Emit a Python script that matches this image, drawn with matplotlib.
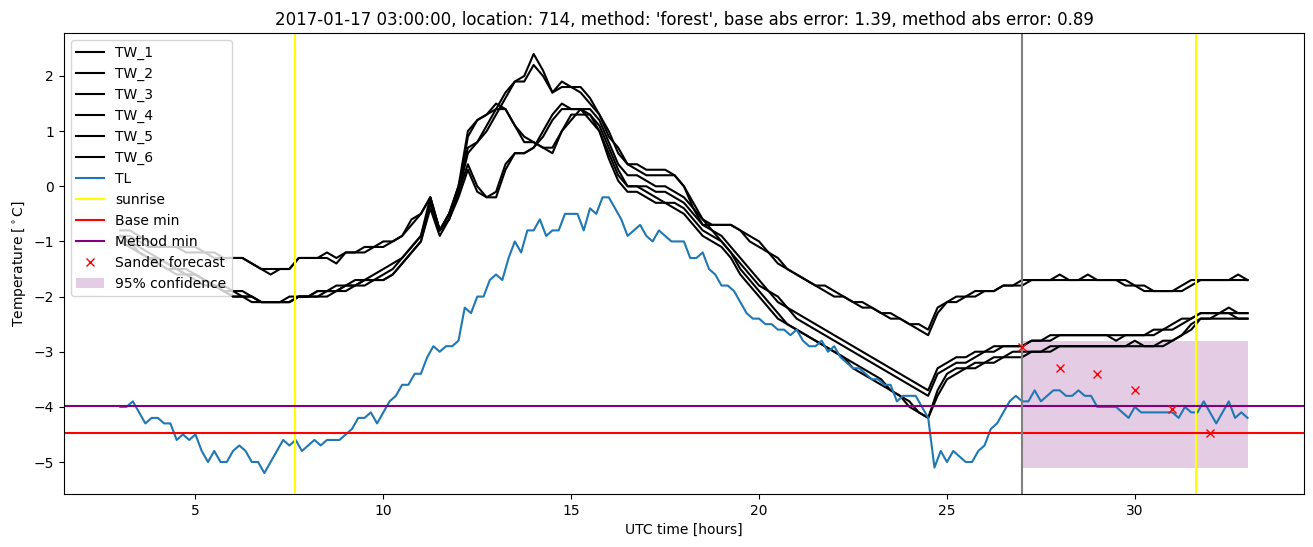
import numpy as np
import matplotlib
matplotlib.use("Agg")
import matplotlib.pyplot as plt

# ---------------- data ----------------
# TL: 10-minute values, one row per hour (h:00 ... h:50), final value at 33:00
tl_values = [
    -4.0, -4.0, -3.9, -4.1, -4.3, -4.2,   # 3
    -4.2, -4.3, -4.3, -4.6, -4.5, -4.6,   # 4
    -4.5, -4.8, -5.0, -4.8, -5.0, -5.0,   # 5
    -4.8, -4.7, -4.8, -5.0, -5.0, -5.2,   # 6
    -5.0, -4.8, -4.6, -4.7, -4.6, -4.8,   # 7
    -4.7, -4.6, -4.7, -4.6, -4.6, -4.6,   # 8
    -4.5, -4.4, -4.2, -4.2, -4.1, -4.3,   # 9
    -4.1, -3.9, -3.8, -3.6, -3.6, -3.4,   # 10
    -3.4, -3.1, -2.9, -3.0, -2.9, -2.9,   # 11
    -2.8, -2.2, -2.3, -2.0, -2.0, -1.7,   # 12
    -1.6, -1.7, -1.3, -1.0, -1.2, -0.8,   # 13
    -0.8, -0.6, -0.9, -0.8, -0.8, -0.5,   # 14
    -0.5, -0.5, -0.8, -0.4, -0.5, -0.2,   # 15
    -0.2, -0.4, -0.6, -0.9, -0.8, -0.7,   # 16
    -0.9, -1.0, -0.8, -0.9, -1.0, -1.0,   # 17
    -1.0, -1.3, -1.3, -1.2, -1.5, -1.6,   # 18
    -1.8, -1.8, -1.9, -2.1, -2.3, -2.4,   # 19
    -2.4, -2.5, -2.5, -2.6, -2.6, -2.7,   # 20
    -2.6, -2.8, -2.9, -2.9, -2.8, -3.0,   # 21
    -2.9, -3.1, -3.2, -3.3, -3.3, -3.4,   # 22
    -3.5, -3.5, -3.6, -3.6, -3.9, -3.8,   # 23
    -3.8, -3.8, -4.0, -4.2, -5.1, -4.8,   # 24
    -5.0, -4.8, -4.9, -5.0, -5.0, -4.8,   # 25
    -4.7, -4.4, -4.3, -4.1, -3.9, -3.8,   # 26
    -3.9, -3.9, -3.7, -3.9, -3.8, -3.7,   # 27
    -3.7, -3.8, -3.8, -3.7, -3.8, -3.8,   # 28
    -4.0, -4.0, -4.0, -4.0, -4.1, -4.2,   # 29
    -4.0, -4.1, -4.1, -4.1, -4.1, -4.1,   # 30
    -4.1, -4.2, -4.0, -4.1, -4.1, -3.9,   # 31
    -4.1, -4.3, -4.1, -3.9, -4.2, -4.1,   # 32
    -4.2,                                 # 33
]

# TW_1..TW_6: 15-minute values, one row per hour (h:00, :15, :30, :45), final at 33:00
tw1_values = [
    -0.8, -0.8, -0.9, -1.0,  -1.1, -1.1, -1.1, -1.1,  -1.1, -1.2, -1.2, -1.3,
    -1.3, -1.3, -1.4, -1.5,  -1.5, -1.5, -1.5, -1.3,  -1.3, -1.3, -1.2, -1.3,
    -1.2, -1.2, -1.1, -1.1,  -1.0, -1.0, -0.9, -0.6,  -0.5, -0.2, -0.8, -0.5,
    0.0, 0.7, 0.8, 1.1,      1.4, 1.7, 1.9, 2.0,      2.4, 2.1, 1.7, 1.9,
    1.8, 1.8, 1.6, 1.3,      0.9, 0.7, 0.4, 0.4,      0.3, 0.3, 0.3, 0.2,
    0.0, -0.4, -0.7, -0.7,   -0.7, -0.7, -0.8, -0.9,  -1.0, -1.2, -1.3, -1.5,
    -1.6, -1.7, -1.8, -1.8,  -1.9, -2.0, -2.1, -2.1,  -2.2, -2.3, -2.3, -2.4,
    -2.5, -2.5, -2.6, -2.2,  -2.1, -2.0, -2.0, -1.9,  -1.9, -1.9, -1.8, -1.8,
    -1.7, -1.7, -1.7, -1.7,  -1.7, -1.7, -1.7, -1.6,  -1.7, -1.7, -1.7, -1.7,
    -1.8, -1.8, -1.9, -1.9,  -1.9, -1.9, -1.8, -1.7,  -1.7, -1.7, -1.7, -1.6,
    -1.7,
]
tw2_values = [
    -0.9, -0.9, -1.0, -1.1,  -1.1, -1.1, -1.1, -1.2,  -1.2, -1.2, -1.3, -1.3,
    -1.3, -1.3, -1.4, -1.5,  -1.6, -1.5, -1.5, -1.3,  -1.3, -1.3, -1.3, -1.4,
    -1.2, -1.2, -1.2, -1.1,  -1.1, -1.0, -0.9, -0.7,  -0.5, -0.2, -0.8, -0.6,
    -0.1, 0.6, 0.8, 1.0,     1.3, 1.6, 1.9, 1.9,      2.2, 2.0, 1.7, 1.8,
    1.8, 1.7, 1.5, 1.3,      1.0, 0.6, 0.4, 0.3,      0.2, 0.2, 0.2, 0.2,
    0.0, -0.3, -0.6, -0.7,   -0.7, -0.7, -0.8, -1.0,  -1.1, -1.2, -1.4, -1.5,
    -1.6, -1.7, -1.8, -1.9,  -2.0, -2.0, -2.1, -2.2,  -2.2, -2.3, -2.4, -2.4,
    -2.5, -2.6, -2.7, -2.3,  -2.1, -2.1, -2.0, -2.0,  -1.9, -1.9, -1.8, -1.8,
    -1.8, -1.7, -1.7, -1.7,  -1.6, -1.7, -1.7, -1.7,  -1.7, -1.7, -1.7, -1.8,
    -1.8, -1.9, -1.9, -1.9,  -1.9, -1.8, -1.7, -1.7,  -1.7, -1.7, -1.7, -1.7,
    -1.7,
]
tw3_values = [
    -0.9, -1.0, -1.1, -1.2,  -1.3, -1.4, -1.5, -1.5,  -1.6, -1.7, -1.8, -1.8,
    -1.9, -1.9, -2.0, -2.1,  -2.1, -2.1, -2.0, -2.0,  -2.0, -1.9, -1.9, -1.8,
    -1.8, -1.7, -1.7, -1.6,  -1.5, -1.4, -1.3, -1.1,  -0.9, -0.2, -0.8, -0.5,
    0.0, 1.0, 1.2, 1.3,      1.5, 1.4, 1.1, 0.9,      0.8, 0.7, 0.6, 1.0,
    1.2, 1.4, 1.4, 1.2,      0.8, 0.4, 0.2, 0.2,      0.1, 0.0, 0.0, -0.1,
    -0.2, -0.4, -0.6, -0.8,  -0.9, -1.1, -1.3, -1.5,  -1.7, -1.9, -2.0, -2.2,
    -2.3, -2.4, -2.5, -2.6,  -2.7, -2.8, -2.9, -3.0,  -3.1, -3.2, -3.3, -3.4,
    -3.5, -3.6, -3.7, -3.3,  -3.2, -3.1, -3.1, -3.0,  -3.0, -2.9, -2.9, -2.9,
    -2.9, -2.8, -2.8, -2.7,  -2.7, -2.7, -2.7, -2.7,  -2.7, -2.7, -2.7, -2.7,
    -2.7, -2.7, -2.6, -2.6,  -2.5, -2.4, -2.4, -2.3,  -2.3, -2.3, -2.2, -2.3,
    -2.3,
]
tw4_values = [
    -1.0, -1.0, -1.2, -1.3,  -1.4, -1.5, -1.5, -1.6,  -1.6, -1.7, -1.8, -1.9,
    -2.0, -2.0, -2.0, -2.1,  -2.1, -2.1, -2.1, -2.0,  -2.0, -2.0, -1.9, -1.9,
    -1.8, -1.8, -1.7, -1.7,  -1.6, -1.5, -1.3, -1.1,  -0.9, -0.3, -0.8, -0.5,
    -0.1, 0.9, 1.2, 1.3,     1.4, 1.4, 1.1, 0.8,      0.8, 0.7, 0.7, 1.0,
    1.3, 1.3, 1.3, 1.1,      0.7, 0.3, 0.0, 0.0,      0.0, -0.1, -0.1, -0.2,
    -0.3, -0.5, -0.7, -0.8,  -1.0, -1.2, -1.4, -1.6,  -1.8, -1.9, -2.1, -2.2,
    -2.4, -2.5, -2.6, -2.7,  -2.8, -2.9, -3.0, -3.1,  -3.2, -3.3, -3.4, -3.5,
    -3.6, -3.7, -3.8, -3.4,  -3.3, -3.2, -3.2, -3.1,  -3.0, -3.0, -2.9, -2.9,
    -2.9, -2.8, -2.8, -2.8,  -2.7, -2.7, -2.7, -2.7,  -2.7, -2.7, -2.8, -2.7,
    -2.7, -2.7, -2.7, -2.6,  -2.6, -2.5, -2.4, -2.3,  -2.3, -2.3, -2.3, -2.3,
    -2.3,
]
tw5_values = [
    -1.0, -1.1, -1.2, -1.3,  -1.3, -1.4, -1.5, -1.6,  -1.6, -1.7, -1.8, -1.9,
    -1.9, -2.0, -2.0, -2.1,  -2.1, -2.1, -2.1, -2.0,  -2.0, -2.0, -2.0, -1.9,
    -1.9, -1.8, -1.8, -1.7,  -1.7, -1.6, -1.4, -1.2,  -1.0, -0.3, -0.8, -0.6,
    -0.1, 0.4, 0.0, -0.2,    -0.2, 0.3, 0.6, 0.6,     0.7, 1.0, 1.3, 1.5,
    1.4, 1.4, 1.3, 1.0,      0.6, 0.2, 0.0, 0.0,      -0.1, -0.2, -0.3, -0.3,
    -0.4, -0.6, -0.8, -0.9,  -1.0, -1.2, -1.5, -1.7,  -1.9, -2.1, -2.3, -2.5,
    -2.6, -2.7, -2.8, -2.9,  -3.0, -3.1, -3.2, -3.3,  -3.4, -3.5, -3.7, -3.8,
    -3.9, -4.1, -4.2, -3.7,  -3.4, -3.3, -3.3, -3.2,  -3.2, -3.1, -3.1, -3.0,
    -3.0, -3.0, -3.0, -2.9,  -2.9, -2.9, -2.9, -2.9,  -2.9, -2.9, -2.9, -2.9,
    -2.8, -2.9, -2.9, -2.8,  -2.8, -2.7, -2.6, -2.4,  -2.4, -2.3, -2.3, -2.4,
    -2.4,
]
tw6_values = [
    -1.0, -1.1, -1.2, -1.3,  -1.4, -1.5, -1.6, -1.6,  -1.7, -1.8, -1.8, -1.9,
    -2.0, -2.0, -2.1, -2.1,  -2.1, -2.1, -2.1, -2.0,  -2.0, -1.9, -1.9, -1.9,
    -1.8, -1.8, -1.7, -1.7,  -1.7, -1.6, -1.4, -1.2,  -1.0, -0.4, -0.9, -0.6,
    -0.2, 0.3, -0.1, -0.2,   -0.1, 0.4, 0.6, 0.6,     0.7, 0.9, 1.2, 1.4,
    1.4, 1.4, 1.2, 1.0,      0.5, 0.1, -0.1, -0.1,    -0.2, -0.3, -0.3, -0.4,
    -0.5, -0.7, -0.9, -1.0,  -1.1, -1.3, -1.6, -1.8,  -2.0, -2.2, -2.4, -2.5,
    -2.6, -2.7, -2.8, -2.9,  -3.0, -3.1, -3.3, -3.4,  -3.5, -3.6, -3.7, -3.8,
    -4.0, -4.1, -4.2, -3.8,  -3.5, -3.4, -3.3, -3.3,  -3.2, -3.2, -3.1, -3.1,
    -3.1, -3.0, -3.0, -3.0,  -2.9, -2.9, -2.9, -2.9,  -2.9, -2.9, -2.9, -2.9,
    -2.9, -2.9, -2.9, -2.9,  -2.8, -2.7, -2.5, -2.4,  -2.4, -2.4, -2.4, -2.4,
    -2.4,
]
tw_series = {"TW_1": tw1_values, "TW_2": tw2_values, "TW_3": tw3_values,
             "TW_4": tw4_values, "TW_5": tw5_values, "TW_6": tw6_values}

sunrise_hours = [7.66, 31.64]
base_min = -4.47
method_min = -3.98
forecast_start = 27.0
forecast_hours = [27, 28, 29, 30, 31, 32]
forecast_values = [-2.91, -3.29, -3.41, -3.70, -4.03, -4.48]
conf_hours = [27.0, 33.0]
conf_low = -5.10
conf_high = -2.81

title = ("2017-01-17 03:00:00, location: 714, method: 'forest', "
         "base abs error: 1.39, method abs error: 0.89")

# ---------------- plot ----------------
t_tl = 3.0 + np.arange(len(tl_values)) / 6.0
t_tw = 3.0 + np.arange(len(tw1_values)) / 4.0

fig = plt.figure(figsize=(13.13, 5.47), dpi=100)
ax = fig.add_axes([0.0487, 0.0969, 0.9444, 0.8428])

for name, vals in tw_series.items():
    ax.plot(t_tw, vals, color="black", label=name)
ax.plot(t_tl, tl_values, color="C0", label="TL")
ax.axvline(sunrise_hours[0], color="yellow", label="sunrise")
ax.axvline(sunrise_hours[1], color="yellow")
ax.axhline(base_min, color="red", label="Base min")
ax.axhline(method_min, color="purple", label="Method min")
ax.axvline(forecast_start, color="gray")
ax.plot(forecast_hours, forecast_values, "x", color="red", label="Sander forecast")
ax.fill_between(conf_hours, [conf_low] * 2, [conf_high] * 2, color="purple",
                alpha=0.2, linewidth=0, label="95% confidence")

ax.set_title(title)
ax.set_xlabel("UTC time [hours]")
ax.set_ylabel(r"Temperature [$^\circ$C]")
ax.legend(loc="upper left")

fig.savefig("out.png", dpi=100)
